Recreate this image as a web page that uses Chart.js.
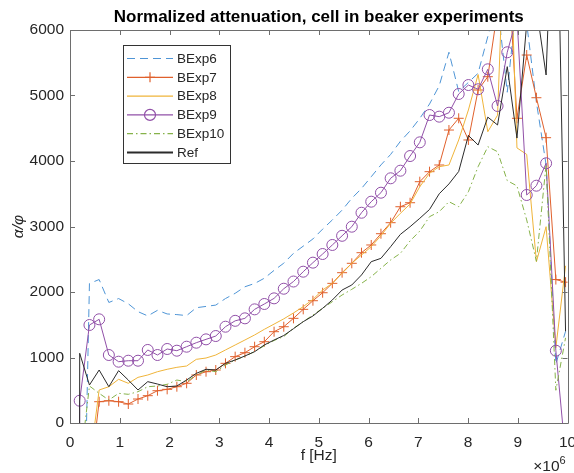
<!DOCTYPE html>
<html>
<head>
<meta charset="utf-8">
<script src="https://cdn.jsdelivr.net/npm/chart.js@4.4.1/dist/chart.umd.min.js"></script>
<style>
  html, body { margin: 0; padding: 0; background: #fff; }
</style>
</head>
<body>
<canvas id="chartCanvas" width="574" height="473"></canvas>
<script>
// frequency grid, in units of 10^6 Hz (first point is the DC bin)
const freq = [0, 0.195, 0.391, 0.586, 0.781, 0.977, 1.172, 1.367, 1.563, 1.758,
  1.953, 2.148, 2.344, 2.539, 2.734, 2.930, 3.125, 3.320, 3.516, 3.711,
  3.906, 4.102, 4.297, 4.492, 4.688, 4.883, 5.078, 5.273, 5.469, 5.664,
  5.859, 6.055, 6.250, 6.445, 6.641, 6.836, 7.031, 7.227, 7.422, 7.617,
  7.813, 8.008, 8.203, 8.398, 8.594, 8.789, 8.984, 9.180, 9.375, 9.570,
  9.766, 9.961];

const bexp6 = [-100000, -5000, 2130, 2190, 1840, 1900, 1820, 1700, 1635, 1720,
  1665, 1655, 1640, 1760, 1780, 1800, 1900, 1980, 2080, 2130,
  2210, 2330, 2440, 2590, 2700, 2810, 2960, 3100, 3250, 3430,
  3580, 3760, 3940, 4100, 4300, 4460, 4650, 4870, 5150, 5660,
  5060, 5200, 5340, 5900, 6400, 5050, 6500, 6100, 4900, 3940,
  900, 1400];

const bexp7 = [-100000, -1500, -900, 325, 340, 325, 290, 366, 417, 493,
  514, 554, 606, 733, 783, 809, 911, 1013, 1073, 1165,
  1241, 1394, 1470, 1598, 1735, 1867, 1989, 2132, 2295, 2438,
  2600, 2718, 2890, 3058, 3302, 3363, 3684, 3837, 3939, 4473,
  4652, 4321, 5084, 5287, 6300, 7240, 4652, 5618, 4966, 4356,
  2190, 2150];

const bexp8 = [-100000, -1200, -640, 504, 554, 667, 606, 697, 733, 783,
  820, 850, 870, 972, 992, 1038, 1115, 1191, 1267, 1344,
  1430, 1510, 1590, 1680, 1776, 1888, 2030, 2132, 2285, 2438,
  2565, 2692, 2860, 3048, 3201, 3343, 3608, 3812, 3913, 3939,
  4321, 4779, 5320, 4447, 4700, 8700, 4200, 4100, 2463, 2997,
  1150, 2400];

const bexp9 = [-100000, 340, 1496, 1583, 1038, 936, 951, 951, 1115, 1038,
  1130, 1104, 1165, 1226, 1277, 1328, 1470, 1560, 1598, 1735,
  1817, 1903, 2050, 2160, 2310, 2448, 2580, 2718, 2858, 2997,
  3210, 3379, 3516, 3736, 3852, 4076, 4285, 4702, 4677, 4737,
  5023, 5160, 5095, 5400, 4840, 5660, 6200, 3481, 3623, 3965,
  1104, -500];

const bexp10 = [-100000, -690, 565, 453, 351, 453, 438, 478, 554, 565,
  591, 656, 630, 733, 809, 783, 885, 960, 1020, 1090,
  1180, 1260, 1320, 1446, 1547, 1649, 1751, 1852, 1954, 2041,
  2132, 2234, 2362, 2489, 2590, 2780, 2930, 3150, 3226, 3379,
  3302, 3531, 3913, 4218, 4142, 3700, 3620, 3100, 2470, 3950,
  500, 1300];

const ref = [-100000, 1064, 580, 809, 554, 799, 656, 504, 631, 595,
  554, 565, 656, 758, 820, 809, 911, 962, 1023, 1089,
  1191, 1267, 1336, 1440, 1547, 1634, 1751, 1878, 2030, 2107,
  2260, 2463, 2514, 2692, 2880, 2997, 3125, 3260, 3500, 3650,
  3840, 4390, 4244, 4670, 4550, 5440, 4350, 6100, 6340, 5313,
  9300, 1400];

const seriesNames = ['BExp6', 'BExp7', 'BExp8', 'BExp9', 'BExp10', 'Ref'];
const xTickValues = [0, 1, 2, 3, 4, 5, 6, 7, 8, 9, 10];
const yTickValues = [0, 1000, 2000, 3000, 4000, 5000, 6000];
const chartTitle = 'Normalized attenuation, cell in beaker experiments';

const FONT = '"Liberation Sans", Arial, Helvetica, sans-serif';
const TXT = '#262626';

const styles = [
  { color: '#4f95d6', dash: [8, 5], marker: null },
  { color: '#e0602c', dash: [], marker: 'cross' },
  { color: '#efb43a', dash: [], marker: null },
  { color: '#9150a8', dash: [], marker: 'circle' },
  { color: '#86b24a', dash: [6, 3, 1.5, 3], marker: null },
  { color: '#2b2b2b', dash: [], marker: null }
];

const allValues = [bexp6, bexp7, bexp8, bexp9, bexp10, ref];

const datasets = allValues.map((vals, i) => ({
  label: seriesNames[i],
  data: vals.map((v, k) => ({ x: freq[k], y: v })),
  borderColor: styles[i].color,
  borderWidth: 1,
  borderDash: styles[i].dash,
  pointStyle: styles[i].marker || 'circle',
  pointRadius: styles[i].marker ? (styles[i].marker === 'circle' ? 5.5 : 5) : 0,
  pointBorderColor: styles[i].color,
  pointBackgroundColor: 'rgba(0,0,0,0)',
  pointBorderWidth: 1,
  tension: 0,
  fill: false,
  clip: 0,
  order: allValues.length - i
}));

// box, inward ticks, title over the axes and the x exponent, like a MATLAB axes
const axesBox = {
  id: 'axesBox',
  afterDatasetsDraw(chart) {
    const { ctx, chartArea: a, scales } = chart;
    ctx.save();
    ctx.strokeStyle = '#6e6e6e';
    ctx.lineWidth = 1;
    ctx.beginPath();
    ctx.rect(Math.round(a.left) + 0.5, Math.round(a.top) + 0.5,
      Math.round(a.right - a.left), Math.round(a.bottom - a.top));
    xTickValues.forEach(v => {
      const px = Math.round(scales.x.getPixelForValue(v)) + 0.5;
      ctx.moveTo(px, a.bottom); ctx.lineTo(px, a.bottom - 5);
      ctx.moveTo(px, a.top); ctx.lineTo(px, a.top + 5);
    });
    yTickValues.forEach(v => {
      const py = Math.round(scales.y.getPixelForValue(v)) + 0.5;
      ctx.moveTo(a.left, py); ctx.lineTo(a.left + 5, py);
      ctx.moveTo(a.right, py); ctx.lineTo(a.right - 5, py);
    });
    ctx.stroke();

    ctx.fillStyle = '#000';
    ctx.font = 'bold 17px ' + FONT;
    ctx.textAlign = 'center';
    ctx.textBaseline = 'alphabetic';
    ctx.fillText(chartTitle, (a.left + a.right) / 2, a.top - 8);

    ctx.fillStyle = TXT;
    ctx.font = '15.5px ' + FONT;
    ctx.textAlign = 'right';
    ctx.fillText('\u00d710', a.right - 8, 471);
    ctx.font = '11px ' + FONT;
    ctx.textAlign = 'left';
    ctx.fillText('6', a.right - 8, 464);
    ctx.restore();
  }
};

// legend box inside the plot, upper left
const boxLegend = {
  id: 'boxLegend',
  afterDraw(chart) {
    const { ctx } = chart;
    const x0 = 123, y0 = 45, w = 107, h = 118;
    const rowH = 18.8, firstRow = 58.5;
    ctx.save();
    ctx.fillStyle = '#fff';
    ctx.fillRect(x0, y0, w, h);
    ctx.strokeStyle = '#333';
    ctx.lineWidth = 1;
    ctx.strokeRect(x0 + 0.5, y0 + 0.5, w, h);
    chart.data.datasets.forEach((ds, i) => {
      const y = firstRow + i * rowH;
      ctx.strokeStyle = ds.borderColor;
      ctx.lineWidth = ds.label === 'Ref' ? 2 : 1.2;
      ctx.setLineDash(ds.borderDash);
      ctx.beginPath();
      ctx.moveTo(127, y); ctx.lineTo(173, y);
      ctx.stroke();
      ctx.setLineDash([]);
      ctx.lineWidth = 1.2;
      if (styles[i].marker === 'cross') {
        ctx.beginPath();
        ctx.moveTo(145, y); ctx.lineTo(155, y);
        ctx.moveTo(150, y - 5); ctx.lineTo(150, y + 5);
        ctx.stroke();
      } else if (styles[i].marker === 'circle') {
        ctx.beginPath();
        ctx.arc(150, y, 5.5, 0, Math.PI * 2);
        ctx.stroke();
      }
      ctx.fillStyle = TXT;
      ctx.font = '13.5px ' + FONT;
      ctx.textAlign = 'left';
      ctx.textBaseline = 'middle';
      ctx.fillText(ds.label, 177, y + 0.5);
    });
    ctx.restore();
  }
};

const ctx = document.getElementById('chartCanvas').getContext('2d');
new Chart(ctx, {
  type: 'line',
  data: { datasets: datasets },
  options: {
    responsive: false,
    animation: false,
    events: [],
    layout: { padding: { left: 0, right: 4, top: 30, bottom: 0 } },
    plugins: {
      legend: { display: false },
      tooltip: { enabled: false },
      title: { display: false }
    },
    scales: {
      x: {
        type: 'linear',
        min: 0,
        max: 10,
        grid: { display: false, drawTicks: false },
        border: { display: false },
        afterBuildTicks: s => { s.ticks = xTickValues.map(v => ({ value: v })); },
        ticks: {
          padding: 10,
          color: TXT,
          font: { family: FONT, size: 15.5 },
          callback: v => String(v)
        },
        title: {
          display: true,
          text: 'f [Hz]',
          color: TXT,
          font: { family: FONT, size: 15.5 },
          padding: { top: 0, bottom: 8 }
        },
        afterFit: s => { s.height = 50; s.paddingLeft = 0; s.paddingRight = 0; }
      },
      y: {
        type: 'linear',
        min: 0,
        max: 6000,
        grid: { display: false, drawTicks: false },
        border: { display: false },
        afterBuildTicks: s => { s.ticks = yTickValues.map(v => ({ value: v })); },
        ticks: {
          padding: 6,
          color: TXT,
          font: { family: FONT, size: 15.5 },
          callback: v => String(v)
        },
        title: {
          display: true,
          text: '\u03b1/\u03c6',
          color: TXT,
          font: { family: FONT, size: 15.5, style: 'italic' },
          padding: { top: 9, bottom: 0 }
        },
        afterFit: s => { s.width = 70; s.paddingTop = 0; s.paddingBottom = 0; }
      }
    }
  },
  plugins: [axesBox, boxLegend]
});
</script>
</body>
</html>
